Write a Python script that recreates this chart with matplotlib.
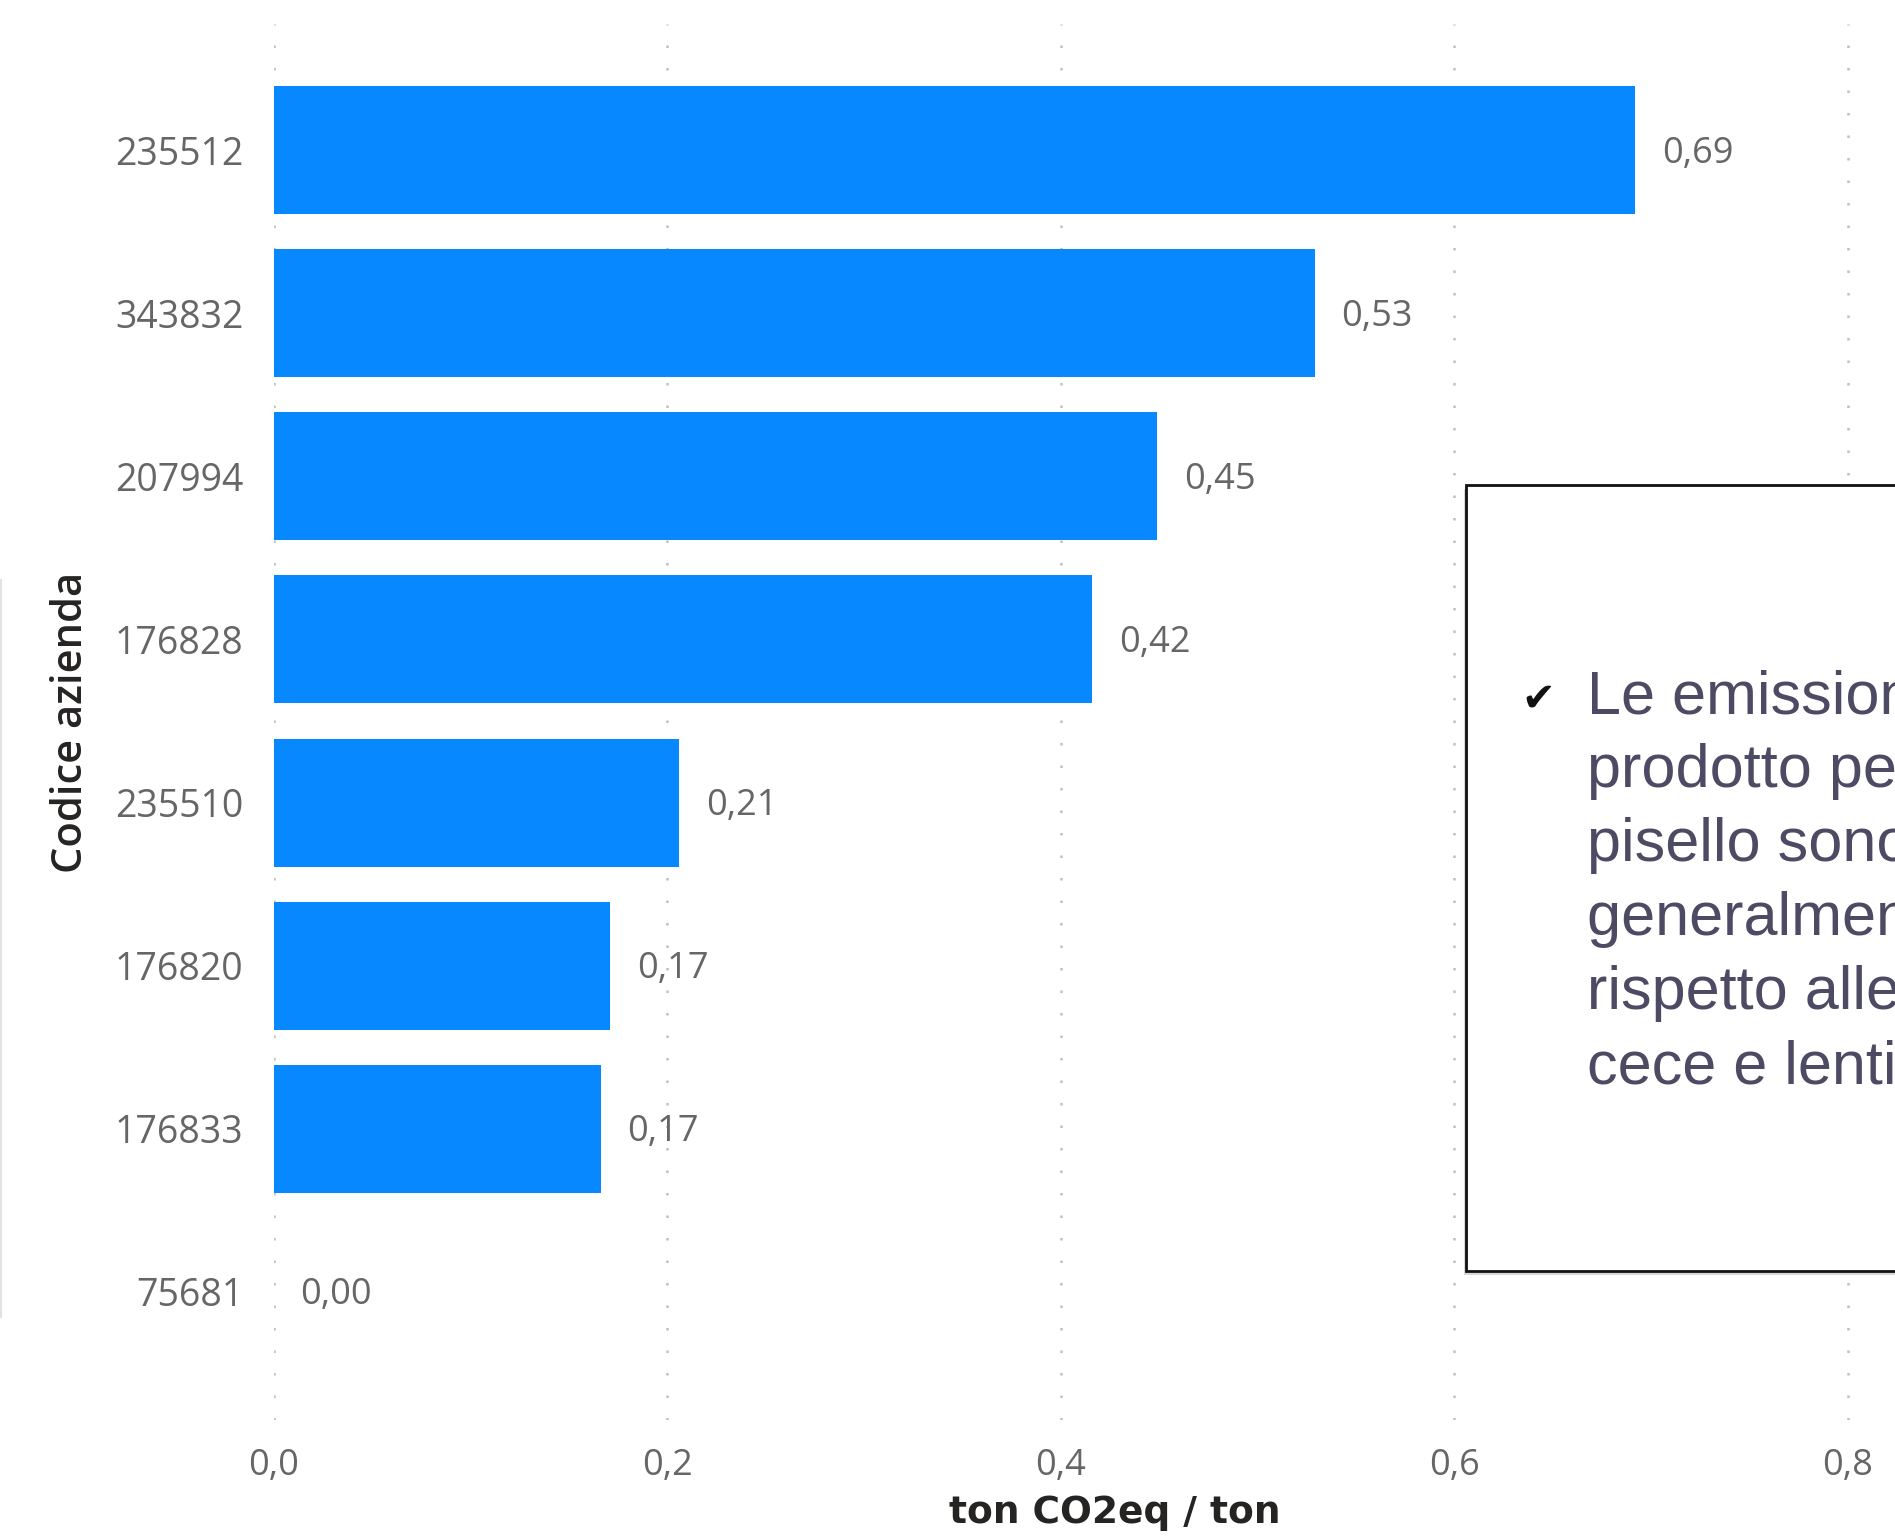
import matplotlib
matplotlib.use("Agg")
import matplotlib.pyplot as plt
from matplotlib.patches import Rectangle
from matplotlib.lines import Line2D

# Emissioni per azienda (ton CO2eq / ton)
aziende = ["235512", "343832", "207994", "176828", "235510", "176820", "176833", "75681"]
emissioni = [0.692, 0.529, 0.449, 0.416, 0.206, 0.171, 0.166, 0.0]
x_ticks = [0.0, 0.2, 0.4, 0.6, 0.8]
x_tick_labels = ["0,0", "0,2", "0,4", "0,6", "0,8"]

nota = ["Le emissioni per unità di",
        "prodotto per il",
        "pisello sono",
        "generalmente inferiori",
        "rispetto alle colture di",
        "cece e lenticchia"]

W, H = 1895, 1536
BAR_COLOR = "#0788FF"
TICK_COLOR = "#666666"
TITLE_COLOR = "#252423"

fig = plt.figure(figsize=(W / 100, H / 100), dpi=100)
fig.patch.set_facecolor("white")

ax = fig.add_axes([274 / W, 1 - 1420 / H, 1 - 274 / W, (1420 - 24) / H])
ypos = list(range(len(aziende)))
ax.barh(ypos, emissioni, height=0.785, color=BAR_COLOR, zorder=2)
ax.set_ylim(7.785, -0.773)
ax.set_xlim(0, 0.824)

ax.set_yticks(ypos)
ax.set_yticklabels(aziende, fontfamily="Open Sans", fontsize=27, color=TICK_COLOR)
ax.set_xticks(x_ticks)
ax.set_xticklabels(x_tick_labels, fontfamily="Open Sans", fontsize=26, color=TICK_COLOR)
ax.tick_params(axis="y", length=0, pad=22)
ax.tick_params(axis="x", length=0, pad=20)

ax.grid(axis="x", color="#c0c0c0", linestyle=(0, (1, 8)), linewidth=1.8, zorder=0)
ax.grid(axis="y", visible=False)
for s in ax.spines.values():
    s.set_visible(False)

for y, v in zip(ypos, emissioni):
    ax.annotate(f"{v:.2f}".replace(".", ","), xy=(v, y), xytext=(19, -2.5),
                textcoords="offset points", va="center", ha="left",
                fontfamily="Open Sans", fontsize=26, color=TICK_COLOR, zorder=3)

# Axis titles
fig.text(71 / W, 1 - 722 / H, "Codice azienda", rotation=90, ha="center", va="center",
         fontfamily="Open Sans", fontweight="semibold", fontsize=30,
         color=TITLE_COLOR)
fig.text(1115 / W, 1 - 1513 / H, "ton CO2eq / ton", ha="center", va="center",
         fontfamily="DejaVu Sans", fontweight="bold", fontsize=27,
         color=TITLE_COLOR)

# faint left border
fig.add_artist(Line2D([1 / W, 1 / W], [1 - 580 / H, 1 - 1317 / H], color="#e2e2e2",
                      linewidth=1.5, transform=fig.transFigure))

# Note box
bx0, by_top, by_bot = 1466, 485, 1271
fig.add_artist(Rectangle((bx0 / W - 2 / W, 1 - (by_bot + 4) / H), (W - bx0 + 10) / W,
                         (by_bot - by_top) / H, transform=fig.transFigure,
                         facecolor="#d8d8d8", edgecolor="none", zorder=4))
fig.add_artist(Rectangle((bx0 / W, 1 - by_bot / H), (W - bx0 + 10) / W,
                         (by_bot - by_top) / H, transform=fig.transFigure,
                         facecolor="white", edgecolor="#111111", linewidth=2, zorder=5))
fig.text(1538 / W, 1 - 700 / H, "\u2714", ha="center", va="center",
         fontfamily="DejaVu Sans", fontsize=29, color="#111111", zorder=6)
for i, line in enumerate(nota):
    fig.text(1587 / W, 1 - (698 + 74 * i) / H, line, ha="left", va="center",
             fontfamily="Liberation Sans", fontsize=44, color="#4d4a63", zorder=6)

fig.savefig("out.png", dpi=100)
